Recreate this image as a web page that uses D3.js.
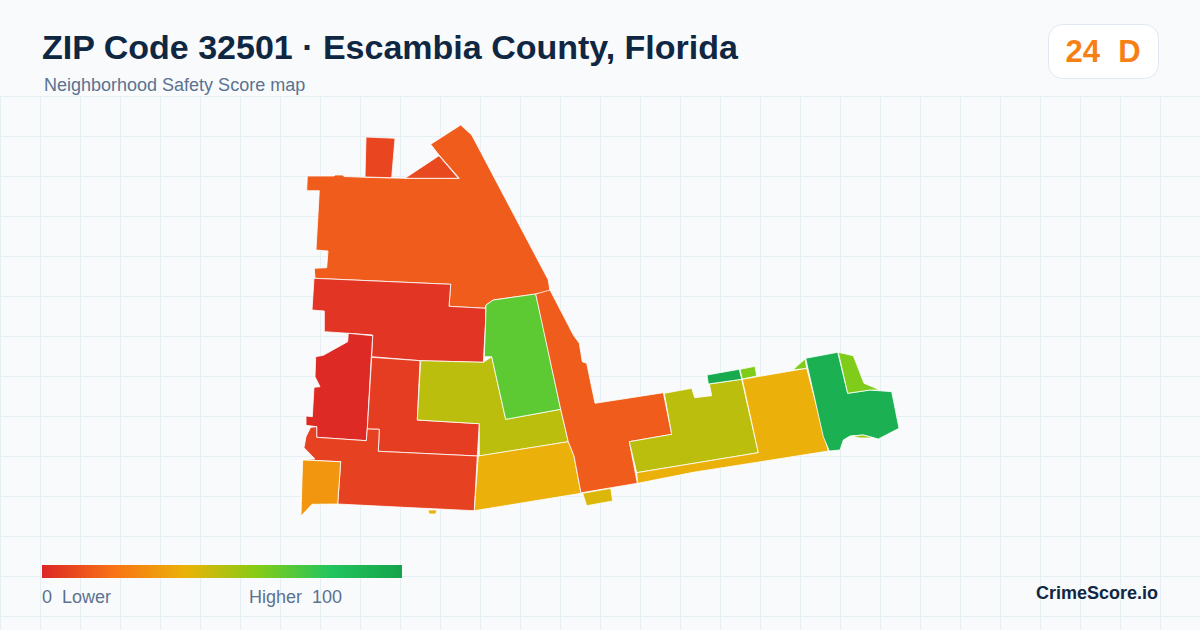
<!DOCTYPE html>
<html>
<head>
<meta charset="utf-8">
<script src="https://cdn.jsdelivr.net/npm/d3@7"></script>
<style>
  html, body { margin: 0; padding: 0; background: #f8fafc; }
  svg { display: block; font-family: "Liberation Sans", Arial, sans-serif; }
  text { white-space: pre; }
</style>
</head>
<body>
<script>
// scores per neighborhood
const scores = [14, 8, 9, 4, 1, 6, 7, 31, 49, 68, 39, 14, 43, 41, 49, 39, 96, 61, 61, 92, 61, 55];

// outlines in map units, same order as scores
const rings = [
  [[7.3,56],[34,56],[35,55],[43,55],[44,56.5],[65,57.3],[103.3,58.3],[159.3,58.3],[139,35],[130.7,24.3],[160.7,5],[171.7,15],[248.3,160],[250,171.7],[235.7,174],[193.3,180],[186,185],[185,188.3],[149,186.3],[150.7,164.3],[15,158.3],[14.3,148.3],[26.7,147.7],[28,131],[16,130],[19.3,70.7],[6.7,70.7]],
  [[66,17],[95,18.3],[91.7,57.7],[65,57]],
  [[139,35.7],[158.3,58.3],[105,58.3]],
  [[14,158.3],[150.7,164.3],[149,186.3],[185.7,188.3],[185.7,200],[183.3,242.3],[120.7,240.7],[71.7,236.7],[72.7,215],[48.3,213.3],[24.3,211.7],[24.3,191],[12,190]],
  [[48.3,213.3],[72.7,215.7],[71.3,236.7],[67.3,308.3],[66.3,320.7],[16.7,317.3],[16.7,306.7],[6,305.3],[6,296],[12.3,296.7],[14,267.3],[20,266.7],[15,256.7],[15.7,236.7],[23.3,235.3],[47.7,221.7]],
  [[71.7,237.3],[120,240.7],[117.3,300],[179.3,303.7],[177.3,336],[78.3,331.3],[79.3,309.3],[67.3,309]],
  [[16.7,306.7],[16.7,317.3],[66.3,320.7],[67.3,309],[79.3,309.3],[78.3,331.3],[177.3,336],[174.3,390.7],[103.3,387.3],[37.7,384],[40.7,341.7],[3.3,340],[15,339],[4,327.7],[6,316.7],[10.7,307.3]],
  [[2.7,340],[40.7,341.7],[37.7,384],[12,384.3],[1,396],[2,360]],
  [[120.7,240.7],[183.3,242.3],[191.7,236.7],[205.7,299.3],[260.7,289.3],[268.3,321.7],[179.3,336],[179.3,303.7],[117.3,300]],
  [[186,185],[193.3,180],[235.7,174],[241.7,200],[260.7,289.3],[205.7,299.3],[191.7,236.7],[184.3,236.7],[185.7,200]],
  [[178.3,336],[268.3,321.7],[274,336],[281,373.3],[174.3,390.7]],
  [[235.7,174],[250,170],[273.3,215],[279.3,223.3],[282.3,241.7],[286.7,243.3],[295,283.3],[363.3,272.7],[371.7,314.3],[329.3,321.7],[337.3,363.3],[281.7,372.7],[281,373.3],[274,336],[268.3,321.7],[260.7,289.3]],
  [[282.7,373.3],[310.7,368.3],[312.7,381],[286.7,385.7]],
  [[128,390],[137,390],[135.7,394],[129,394]],
  [[364.3,273.3],[391.7,268.3],[394.7,277.7],[411.7,275.7],[409.3,264],[441.7,259.3],[458.3,332.7],[336.7,352.7],[329.3,321.7],[371.7,314.3]],
  [[442.3,259.3],[506.7,248.3],[528.3,331],[393.3,352.3],[337.7,363.3],[336.7,352.7],[458.3,332.7]],
  [[407,255],[439.3,249.3],[441.7,259.3],[408.3,264]],
  [[440,249.3],[455,246.3],[456.7,256],[442.3,259]],
  [[492.7,250],[505,239],[506.7,248.3]],
  [[505.7,238.3],[537.7,232.3],[547.7,273.3],[570,270],[591.7,271.7],[599,308.3],[578.3,319],[563.3,315],[550,316],[543.3,320],[540,330],[529.3,331],[523.3,316.7]],
  [[538.3,232.3],[553.3,235.7],[564,263.3],[580,270],[570,270],[547.7,273.3]],
  [[552,316],[563,315],[574,318],[560,318]]
];

const zipScore = 24;
const gradeText = "24  D";
const legendLabels = ["0  Lower", "Higher  100"];
const colorStops = [0, 20, 40, 60, 80, 100];
const colorRange = ["#dc2626", "#f97316", "#eab308", "#84cc16", "#22c55e", "#16a34a"];

const w = 1200, h = 630;
const color = d3.scaleLinear().domain(colorStops).range(colorRange);

const svg = d3.select("body").append("svg")
  .attr("width", w)
  .attr("height", h);

// faint grid under the map, starts below the header
const gridX = d3.range(0, w, 40);
const gridY = d3.range(96.5, h, 40);
svg.append("g").selectAll("line").data(gridX).enter().append("line")
  .attr("x1", d => d + 0.5).attr("x2", d => d + 0.5)
  .attr("y1", 96).attr("y2", h)
  .attr("stroke", "#e6eff4").attr("stroke-width", 1);
svg.append("g").selectAll("line").data(gridY).enter().append("line")
  .attr("x1", 0).attr("x2", w)
  .attr("y1", d => d).attr("y2", d => d)
  .attr("stroke", "#e6eff4").attr("stroke-width", 1);

// map
const features = rings.map((r, i) => ({
  type: "Feature",
  properties: { score: scores[i] },
  geometry: { type: "Polygon", coordinates: [r.concat([r[0]])] }
}));
const projection = d3.geoIdentity().translate([300, 120]);
const path = d3.geoPath(projection);

svg.append("g").selectAll("path").data(features).enter().append("path")
  .attr("d", path)
  .attr("fill", d => color(d.properties.score))
  .attr("stroke", "#ffffff")
  .attr("stroke-width", 0.8)
  .attr("stroke-linejoin", "round");

// header
svg.append("text").attr("x", 42).attr("y", 59)
  .attr("font-size", 34).attr("font-weight", 700).attr("fill", "#0f2742")
  .text("ZIP Code 32501 · Escambia County, Florida");
svg.append("text").attr("x", 44).attr("y", 91)
  .attr("font-size", 18).attr("fill", "#5b7290")
  .text("Neighborhood Safety Score map");

// score badge
svg.append("rect").attr("x", 1048.5).attr("y", 24.5).attr("width", 110).attr("height", 54).attr("rx", 14)
  .attr("fill", "#ffffff").attr("stroke", "#e2e8f0");
svg.append("text").attr("x", 1065.5).attr("y", 62)
  .attr("font-size", 31).attr("font-weight", 700).attr("word-spacing", 0.5).attr("fill", color(zipScore))
  .text(gradeText);

// legend
const legendScale = d3.scaleLinear().domain([0, 100]).range([42, 402]);
const grad = svg.append("defs").append("linearGradient").attr("id", "legend-grad");
grad.selectAll("stop").data(colorStops).enter().append("stop")
  .attr("offset", d => d + "%")
  .attr("stop-color", d => color(d));
svg.append("rect")
  .attr("x", legendScale(0)).attr("y", 565)
  .attr("width", legendScale(100) - legendScale(0)).attr("height", 13)
  .attr("fill", "url(#legend-grad)");
svg.append("text").attr("x", 42).attr("y", 603)
  .attr("font-size", 18).attr("fill", "#5b7290").text(legendLabels[0]);
svg.append("text").attr("x", 249).attr("y", 603)
  .attr("font-size", 18).attr("fill", "#5b7290").text(legendLabels[1]);

svg.append("text").attr("x", 1158).attr("y", 599).attr("text-anchor", "end")
  .attr("font-size", 18).attr("font-weight", 700).attr("fill", "#0f2742")
  .text("CrimeScore.io");
</script>
</body>
</html>
